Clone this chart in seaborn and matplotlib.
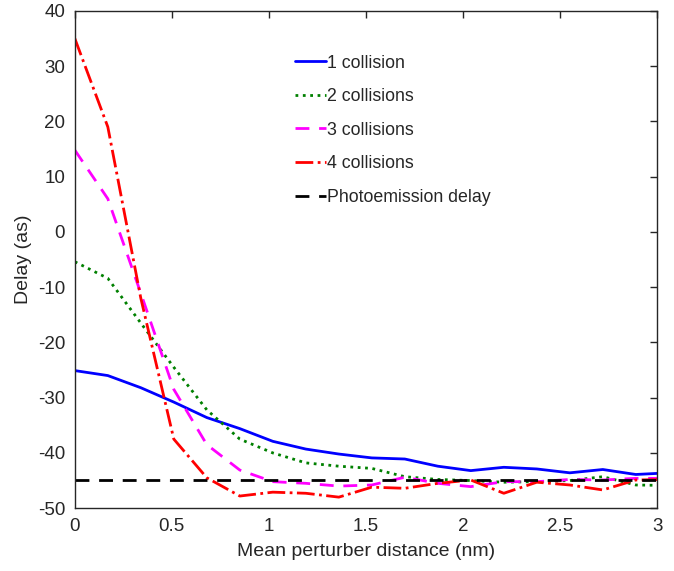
import numpy as np
import pandas as pd
import matplotlib
matplotlib.use('Agg')
import matplotlib.pyplot as plt
import seaborn as sns

# data
distance = [0, 0.17, 0.34, 0.51, 0.68, 0.85, 1.02, 1.19, 1.36, 1.53,
            1.70, 1.87, 2.04, 2.21, 2.38, 2.55, 2.72, 2.89, 3.06]
one_coll = [-25.1, -26.0, -28.2, -30.8, -33.6, -35.6, -37.9, -39.3, -40.2, -40.9,
            -41.1, -42.4, -43.2, -42.6, -42.9, -43.6, -43.0, -43.9, -43.6]
two_coll = [-5.4, -8.4, -16.5, -24.5, -32.2, -37.5, -40.0, -41.8, -42.4, -42.8,
            -44.3, -44.8, -45.0, -45.3, -45.2, -45.0, -44.3, -45.8, -45.9]
three_coll = [14.8, 6.0, -11.1, -28.5, -38.5, -43.1, -45.2, -45.5, -46.0, -45.8,
              -44.4, -45.5, -46.1, -45.2, -45.2, -44.8, -44.9, -44.6, -44.6]
four_coll = [35.0, 19.0, -12.0, -37.5, -44.5, -47.8, -47.1, -47.3, -48.0, -46.2,
             -46.4, -45.5, -44.9, -47.3, -45.3, -45.8, -46.7, -44.9, -44.8]
photo_delay = -44.9

xticks = [0, 0.5, 1, 1.5, 2, 2.5, 3]
xtick_labels = ['0', '0.5', '1', '1.5', '2', '2.5', '3']
yticks = [-50, -40, -30, -20, -10, 0, 10, 20, 30, 40]

sns.set_style("white")
plt.rcParams['font.family'] = ['Liberation Sans', 'DejaVu Sans']
plt.rcParams['axes.unicode_minus'] = False

fig, ax = plt.subplots(figsize=(6.74, 5.71), dpi=100)
fig.subplots_adjust(left=0.111, right=0.975, top=0.981, bottom=0.110)

sns.lineplot(x=distance, y=one_coll, color='#0000ff', linestyle='-', lw=2, label='1 collision', ax=ax)
sns.lineplot(x=distance, y=two_coll, color='#008000', linestyle=':', lw=2, label='2 collisions', ax=ax)
sns.lineplot(x=distance, y=three_coll, color='#ff00ff', linestyle=(0, (5, 3.5)), lw=2, label='3 collisions', ax=ax)
sns.lineplot(x=distance, y=four_coll, color='#ff0000', linestyle='-.', lw=2, label='4 collisions', ax=ax)
ax.axhline(photo_delay, color='black', linestyle=(0, (5, 3.5)), lw=2, label='Photoemission delay')

ax.set_xlim(0, 3)
ax.set_ylim(-50, 40)
ax.set_xticks(xticks)
ax.set_xticklabels(xtick_labels)
ax.set_yticks(yticks)
ax.tick_params(direction='in', length=5, width=1, top=True, right=True,
               labelsize=13.5, colors='#262626', pad=7)
for s in ax.spines.values():
    s.set_color('#262626')
    s.set_linewidth(1)

ax.set_xlabel('Mean perturber distance (nm)', fontsize=14, color='#262626', labelpad=6)
ax.set_ylabel('Delay (as)', fontsize=14, color='#262626', labelpad=4)

ax.legend(loc='upper left', bbox_to_anchor=(0.378, 0.912), frameon=False,
          fontsize=12.8, handlelength=1.75, handletextpad=0.05,
          labelspacing=0.93, borderaxespad=0, borderpad=0)

plt.savefig('out.png', dpi=100)
